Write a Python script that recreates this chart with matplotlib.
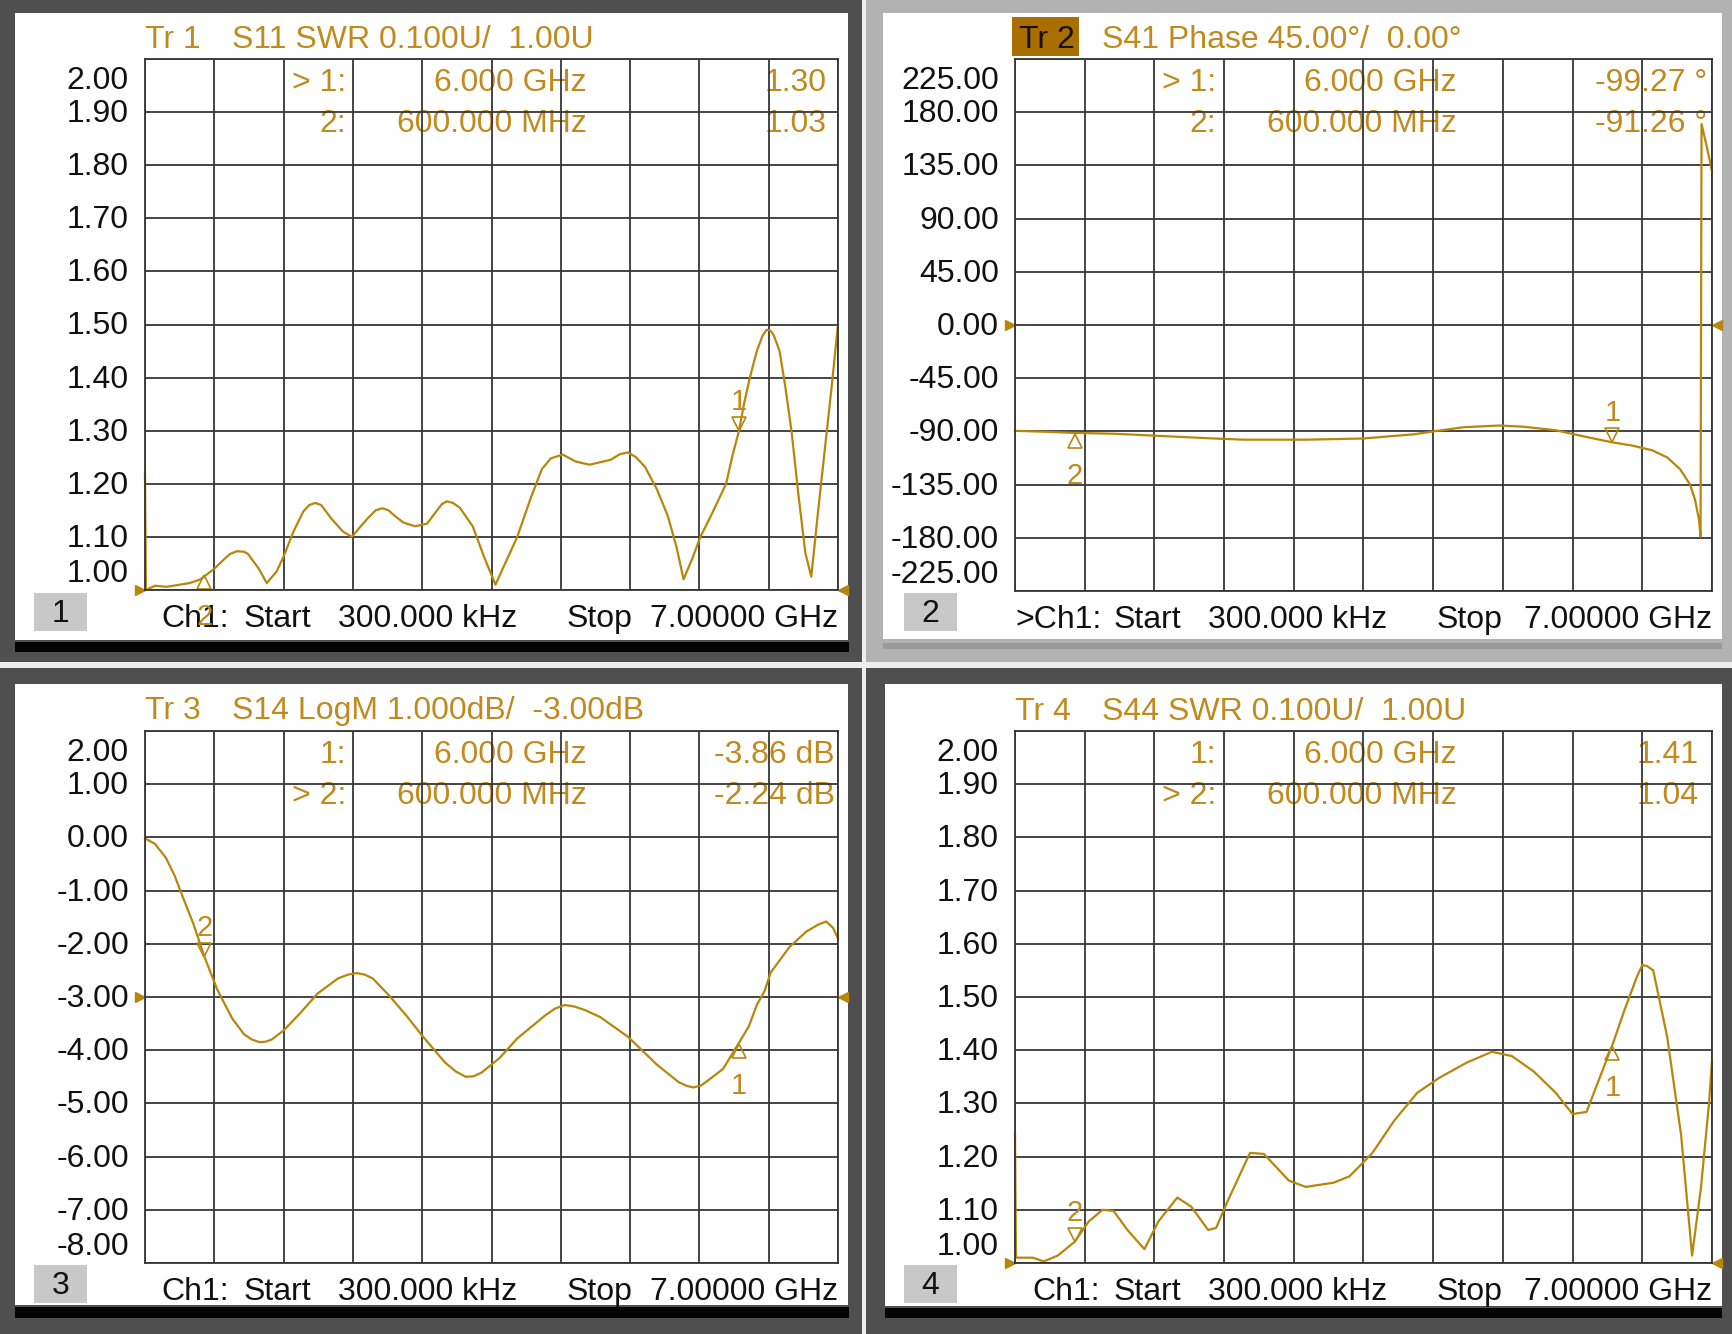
"""
Four-trace VNA screen (S11 SWR, S41 phase, S14 LogM, S44 SWR) redrawn with matplotlib.
"""
import numpy as np
import matplotlib.pyplot as plt
from matplotlib.patches import Rectangle
from matplotlib import transforms

plt.rcParams['font.family'] = ['Liberation Sans', 'DejaVu Sans']

# ---- data (frequency in GHz) ----
s11_freq = [0.0003, 0.01, 0.10, 0.22, 0.35, 0.45, 0.56, 0.70, 0.80, 0.86, 0.93, 1.00, 1.04,
            1.15, 1.23, 1.33, 1.40, 1.50, 1.60, 1.66, 1.72, 1.78, 1.88, 2.00, 2.09, 2.17,
            2.25, 2.33, 2.40, 2.46, 2.52, 2.61, 2.73, 2.85, 2.95, 3.00, 3.05, 3.11, 3.18,
            3.31, 3.43, 3.54, 3.65, 3.76, 3.90, 4.01, 4.10, 4.22, 4.35, 4.49, 4.70, 4.80,
            4.88, 4.96, 5.05, 5.17, 5.28, 5.37, 5.44, 5.53, 5.61, 5.73, 5.87, 5.93, 6.00,
            6.05, 6.11, 6.18, 6.24, 6.28, 6.32, 6.35, 6.41, 6.47, 6.53, 6.60, 6.67, 6.73,
            6.80, 6.87, 6.94, 7.00]
s11_swr = [1.22, 1.00, 1.008, 1.006, 1.01, 1.013, 1.02, 1.04, 1.058, 1.068, 1.073, 1.072, 1.068,
           1.04, 1.013, 1.035, 1.063, 1.11, 1.148, 1.160, 1.164, 1.160, 1.135, 1.11, 1.10, 1.118,
           1.135, 1.15, 1.154, 1.150, 1.14, 1.127, 1.12, 1.125, 1.15, 1.162, 1.167, 1.164, 1.155,
           1.12, 1.06, 1.01, 1.055, 1.10, 1.175, 1.228, 1.248, 1.255, 1.242, 1.236, 1.245, 1.256,
           1.259, 1.25, 1.232, 1.19, 1.14, 1.08, 1.02, 1.06, 1.10, 1.145, 1.20, 1.25, 1.30,
           1.35, 1.40, 1.45, 1.48, 1.49, 1.488, 1.48, 1.45, 1.38, 1.30, 1.18, 1.07, 1.025,
           1.15, 1.27, 1.39, 1.50]

s41_freq = [0.0003, 0.30, 0.60, 1.00, 1.13, 1.50, 2.00, 2.30, 2.92, 3.50, 4.00, 4.20, 4.50,
            4.87, 5.10, 5.43, 5.70, 6.00, 6.20, 6.40, 6.55, 6.68, 6.78, 6.83, 6.87, 6.885,
            6.895, 6.95, 7.00]
s41_phase = [-89.5, -90.3, -91.26, -92.0, -92.5, -94.0, -96.0, -97.0, -97.0, -96.0, -92.5, -90.0,
             -86.5, -85.0, -86.0, -89.0, -94.0, -99.27, -102.0, -106.0, -112.0, -122.0, -135.0,
             -148.0, -165.0, -179.0, 170.0, 150.0, 130.0]

s14_freq = [0.0003, 0.10, 0.21, 0.30, 0.38, 0.49, 0.60, 0.73, 0.88, 1.00, 1.08, 1.16, 1.22,
            1.28, 1.40, 1.57, 1.74, 1.95, 2.05, 2.14, 2.22, 2.30, 2.47, 2.64, 2.81, 3.03,
            3.14, 3.24, 3.32, 3.40, 3.58, 3.76, 4.04, 4.14, 4.24, 4.34, 4.45, 4.60, 4.88,
            5.17, 5.39, 5.47, 5.54, 5.62, 5.70, 5.84, 6.00, 6.10, 6.18, 6.26, 6.32, 6.51,
            6.68, 6.80, 6.88, 6.95, 7.00]
s14_db = [-0.02, -0.12, -0.38, -0.72, -1.11, -1.63, -2.24, -2.86, -3.40, -3.70, -3.80, -3.85,
          -3.84, -3.80, -3.63, -3.30, -2.94, -2.65, -2.58, -2.55, -2.58, -2.65, -2.98, -3.35,
          -3.75, -4.23, -4.40, -4.50, -4.49, -4.42, -4.15, -3.78, -3.35, -3.22, -3.15, -3.18,
          -3.25, -3.38, -3.75, -4.27, -4.60, -4.67, -4.70, -4.66, -4.55, -4.35, -3.86, -3.55,
          -3.15, -2.88, -2.54, -2.06, -1.77, -1.64, -1.58, -1.70, -1.90]

s44_freq = [0.0003, 0.01, 0.18, 0.29, 0.43, 0.60, 0.74, 0.88, 0.99, 1.13, 1.30, 1.44, 1.63,
            1.77, 1.94, 2.02, 2.14, 2.36, 2.50, 2.75, 2.92, 3.20, 3.36, 3.59, 3.81, 4.04,
            4.26, 4.54, 4.79, 4.99, 5.21, 5.43, 5.60, 5.74, 5.88, 6.00, 6.13, 6.25, 6.30,
            6.35, 6.41, 6.55, 6.69, 6.80, 6.89, 6.97, 7.00]
s44_swr = [1.244, 1.01, 1.01, 1.003, 1.014, 1.04, 1.078, 1.10, 1.098, 1.062, 1.026, 1.078, 1.123,
           1.106, 1.062, 1.066, 1.118, 1.207, 1.205, 1.155, 1.143, 1.151, 1.163, 1.207, 1.268,
           1.32, 1.348, 1.377, 1.397, 1.389, 1.36, 1.32, 1.28, 1.284, 1.352, 1.41, 1.48, 1.54,
           1.56, 1.558, 1.55, 1.425, 1.24, 1.014, 1.143, 1.30, 1.38]

trace_freqs = [s11_freq, s41_freq, s14_freq, s44_freq]
trace_vals = [s11_swr, s41_phase, s14_db, s44_swr]

trace_names = ['Tr 1', 'Tr 2', 'Tr 3', 'Tr 4']
trace_titles = ['S11 SWR 0.100U/  1.00U', 'S41 Phase 45.00\u00b0/  0.00\u00b0',
                'S14 LogM 1.000dB/  -3.00dB', 'S44 SWR 0.100U/  1.00U']
y_limits = [(1.0, 2.0), (-225.0, 225.0), (-8.0, 2.0), (1.0, 2.0)]
ref_levels = [1.0, 0.0, -3.0, 1.0]

marker_freqs = [6.0, 0.6]
marker_vals = [[1.30, 1.03], [-99.27, -91.26], [-3.86, -2.24], [1.41, 1.04]]
active_marker = [1, 1, 2, 2]
marker_rows = [
    [('> 1:', '6.000 GHz', '1.30'), ('2:', '600.000 MHz', '1.03')],
    [('> 1:', '6.000 GHz', '-99.27 \u00b0'), ('2:', '600.000 MHz', '-91.26 \u00b0')],
    [('1:', '6.000 GHz', '-3.86 dB'), ('> 2:', '600.000 MHz', '-2.24 dB')],
    [('1:', '6.000 GHz', '1.41'), ('> 2:', '600.000 MHz', '1.04')],
]
channel_labels = ['Ch1:', '>Ch1:', 'Ch1:', 'Ch1:']
start_label = '300.000 kHz'
stop_label = '7.00000 GHz'
f_start, f_stop = 0.0003, 7.0

# ---- screen layout in pixels ----
W, H = 1733, 1334
FS = 23
TRACE = '#B8860B'
GOLD = '#C08A1E'
GRID = '#363636'

# outer frame, white area, bottom bar, frame colour, bar colour
frames = [
    ((0, 0, 862, 662), (15, 13, 848, 640), (15, 642, 849, 652), '#4f4f4f', '#050505'),
    ((866, 0, 1733, 662), (883, 13, 1722, 639), (883, 643, 1722, 649), '#b2b2b2', '#9a9a9a'),
    ((0, 668, 862, 1334), (15, 684, 848, 1305), (15, 1307, 849, 1318), '#4f4f4f', '#050505'),
    ((866, 668, 1733, 1334), (885, 684, 1722, 1306), (885, 1308, 1722, 1318), '#4f4f4f', '#050505'),
]
plot_boxes = [(145, 59, 838, 590), (1015, 59, 1712, 591), (145, 731, 838, 1263), (1015, 731, 1712, 1263)]
num_boxes = [(34, 593, 87, 631), (904, 593, 957, 631), (34, 1265, 87, 1303), (904, 1265, 957, 1303)]
title_y = [40, 40, 711, 712]
col3_right = [682, 692, 690, 684]
footer_ch_x = [16, 0, 16, 17]
TEXT_DY = 2

fig = plt.figure(figsize=(W / 100, H / 100), dpi=100)
fig.patch.set_facecolor('#eeeeee')
bg = fig.add_axes([0, 0, 1, 1], zorder=0)
bg.set_xlim(0, W)
bg.set_ylim(H, 0)
bg.axis('off')


def rect(box, color):
    x0, y0, x1, y1 = box
    bg.add_patch(Rectangle((x0, y0), x1 - x0, y1 - y0, facecolor=color, edgecolor='none'))


def label(x, y, s, color, ha='left', size=FS):
    bg.text(x, y, s, color=color, ha=ha, va='center', fontsize=size)


for i in range(4):
    outer, inner, bar, fcol, bcol = frames[i]
    rect(outer, fcol)
    rect(inner, 'white')
    rect(bar, bcol)
    rect(num_boxes[i], '#c8c8c8')
    nb = num_boxes[i]
    label((nb[0] + nb[2]) / 2, (nb[1] + nb[3]) / 2 + TEXT_DY, str(i + 1), '#111111', ha='center')

    pl, pt, pr, pb = plot_boxes[i]

    # title line
    if i == 1:
        rect((pl - 3, title_y[i] - 23, pl + 64, title_y[i] + 16), '#A86E00')
        label(pl + 4, title_y[i], trace_names[i], '#1a1000')
    else:
        label(pl, title_y[i], trace_names[i], GOLD)
    label(pl + 87, title_y[i], trace_titles[i], GOLD)

    # marker table
    for r, row in enumerate(marker_rows[i]):
        ry = pt + 22 + 41 * r + TEXT_DY
        label(pl + 201, ry, row[0], GOLD, ha='right')
        label(pl + 442, ry, row[1], GOLD, ha='right')
        label(pl + col3_right[i], ry, row[2], GOLD, ha='right')

    # footer
    fy = pb + 27 + TEXT_DY
    label(pl + footer_ch_x[i], fy, channel_labels[i], '#111111')
    label(pl + 99, fy, 'Start', '#111111')
    label(pl + 372, fy, start_label, '#111111', ha='right')
    label(pl + 422, fy, 'Stop', '#111111')
    label(pr, fy, stop_label, '#111111', ha='right')

    # graticule
    ax = fig.add_axes([pl / W, 1 - pb / H, (pr - pl) / W, (pb - pt) / H], zorder=1)
    ax.set_facecolor('none')
    lo, hi = y_limits[i]
    ax.set_xlim(f_start, f_stop)
    ax.set_ylim(lo, hi)
    grid_x = np.linspace(f_start, f_stop, 11)
    grid_y = np.linspace(lo, hi, 11)
    ax.set_xticks(grid_x)
    ax.set_yticks(grid_y)
    ax.tick_params(length=0, labelbottom=False, labelleft=False)
    ax.grid(True, color=GRID, lw=1.3)
    for sp in ax.spines.values():
        sp.set_color(GRID)
        sp.set_linewidth(1.3)

    for k, val in enumerate(grid_y):
        dy = 18 if k == 0 else (-20 if k == 10 else 0)
        tr = transforms.offset_copy(ax.get_yaxis_transform(), fig=fig, x=-16,
                                    y=dy - TEXT_DY, units='dots')
        ax.text(0, val, f'{val:.2f}', transform=tr, ha='right', va='center',
                fontsize=FS, color='#111111', clip_on=False)

    # reference position arrows
    left_t = transforms.offset_copy(ax.get_yaxis_transform(), fig=fig, x=-5, units='dots')
    right_t = transforms.offset_copy(ax.get_yaxis_transform(), fig=fig, x=5, units='dots')
    ax.plot([0], [ref_levels[i]], marker='>', ms=7, color=TRACE, transform=left_t, clip_on=False)
    ax.plot([1], [ref_levels[i]], marker='<', ms=7, color=TRACE, transform=right_t, clip_on=False)

    ax.plot(trace_freqs[i], trace_vals[i], color=TRACE, lw=1.6, clip_on=False)

    # markers
    for m, (mf, mv) in enumerate(zip(marker_freqs, marker_vals[i])):
        num = m + 1
        if num == active_marker[i]:
            sym, oy, ty = 'v', 7, 29
        else:
            sym, oy, ty = '^', -8, -43
        mt = transforms.offset_copy(ax.transData, fig=fig, y=oy, units='dots')
        nt = transforms.offset_copy(ax.transData, fig=fig, y=ty, units='dots')
        ax.plot([mf], [mv], marker=sym, ms=10, mfc='none', mec=TRACE, mew=1.2,
                transform=mt, clip_on=False)
        ax.text(mf, mv, str(num), transform=nt, ha='center', va='center',
                fontsize=21, color=GOLD, clip_on=False)

fig.savefig('out.png', dpi=100)
